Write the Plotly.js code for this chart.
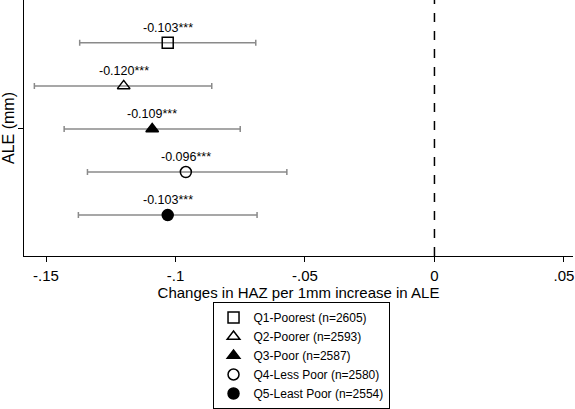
<!DOCTYPE html>
<html>
<head>
<meta charset="utf-8">
<script src="https://cdn.plot.ly/plotly-3.0.1.min.js"></script>
<style>html,body{margin:0;padding:0;background:#fff;}#chart{width:575px;height:409px;}</style>
</head>
<body>
<div id="chart"></div>
<script>
// Data
const groups = ["Q1-Poorest (n=2605)", "Q2-Poorer (n=2593)", "Q3-Poor (n=2587)", "Q4-Less Poor (n=2580)", "Q5-Least Poor (n=2554)"];
const positions = [1, 2, 3, 4, 5];
const estimates = [-0.103, -0.120, -0.109, -0.096, -0.103];
const ciLower = [-0.137, -0.1545, -0.143, -0.134, -0.1375];
const ciUpper = [-0.069, -0.086, -0.075, -0.057, -0.0685];
const estLabels = ["-0.103***", "-0.120***", "-0.109***", "-0.096***", "-0.103***"];
const xTickVals = [-0.15, -0.1, -0.05, 0, 0.05];
const xTickText = ["-.15", "-.1", "-.05", "0", ".05"];

const symbols = ["square-open", "triangle-up-open", "triangle-up", "circle-open", "circle"];
const FONT = "Liberation Sans, Arial, sans-serif";

const traces = groups.map((g, i) => ({
  type: "scatter",
  mode: "markers",
  name: g,
  x: [estimates[i]],
  y: [positions[i]],
  marker: {symbol: symbols[i], size: 11, color: "black", line: {color: "black", width: 1.5}},
  error_x: {
    type: "data", symmetric: false,
    array: [ciUpper[i] - estimates[i]],
    arrayminus: [estimates[i] - ciLower[i]],
    color: "#8a8a8a", thickness: 1.5, width: 3
  },
  hoverinfo: "x+name"
}));

const annotations = estLabels.map((t, i) => ({
  x: estimates[i], y: positions[i], xref: "x", yref: "y",
  text: t, showarrow: false, yshift: 15,
  font: {family: FONT, size: 12.5, color: "black"}
}));

const layout = {
  width: 575, height: 409,
  margin: {l: 24, r: 2, t: 0, b: 152},
  paper_bgcolor: "white", plot_bgcolor: "white",
  font: {family: FONT, color: "black"},
  showlegend: true,
  legend: {
    x: 0.5046, xanchor: "center", y: -0.18, yanchor: "top",
    bordercolor: "black", borderwidth: 1, bgcolor: "white",
    font: {family: FONT, size: 12, color: "black"},
    itemwidth: 30, tracegroupgap: 0
  },
  xaxis: {
    range: [-0.1585, 0.0535],
    tickvals: xTickVals, ticktext: xTickText,
    ticks: "outside", ticklen: 5, tickcolor: "black", tickwidth: 1,
    ticklabelstandoff: 1,
    showline: true, linecolor: "black", linewidth: 1,
    showgrid: false, zeroline: false,
    tickfont: {family: FONT, size: 15},
    title: {text: "Changes in HAZ per 1mm increase in ALE", font: {family: FONT, size: 15}, standoff: 0}
  },
  yaxis: {
    range: [5.95, 0.006],
    tickvals: [3], ticktext: [""],
    ticks: "outside", ticklen: 5, tickcolor: "black", tickwidth: 1,
    showline: true, linecolor: "black", linewidth: 1,
    showgrid: false, zeroline: false,
    title: {text: "ALE (mm)", font: {family: FONT, size: 16}, standoff: 0}
  },
  shapes: [{
    type: "line", xref: "x", yref: "paper", x0: 0, x1: 0, y0: 0, y1: 1,
    line: {color: "black", width: 1.5, dash: "dash"}
  }],
  annotations: annotations
};

Plotly.newPlot("chart", traces, layout, {displayModeBar: false, staticPlot: true});
</script>
</body>
</html>
